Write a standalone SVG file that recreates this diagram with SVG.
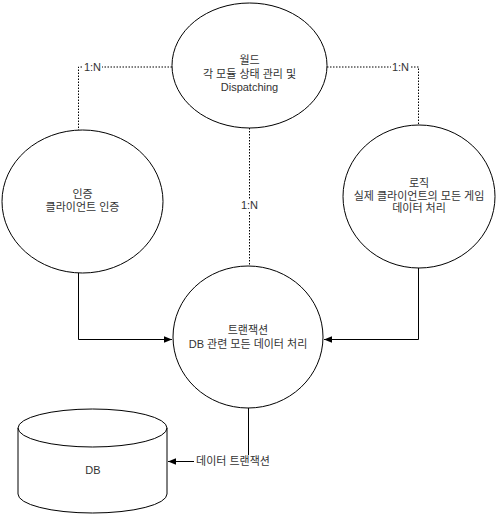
<svg xmlns="http://www.w3.org/2000/svg" width="497" height="517" viewBox="0 0 497 517">
<defs>
<style>
.n{fill:#fff;stroke:#000;stroke-width:1}
.t{font-family:"Liberation Sans","Noto Sans CJK KR",sans-serif;font-size:11px;fill:#333;text-anchor:middle}
.d{fill:none;stroke:#000;stroke-width:1;stroke-dasharray:1.5 1.5}
.s{fill:none;stroke:#000;stroke-width:1}
.lb{fill:#fff}
</style>
<marker id="ah" viewBox="0 0 10 10" refX="10" refY="5" markerWidth="8" markerHeight="8" markerUnits="userSpaceOnUse" orient="auto">
<path d="M0,1 L10,5 L0,9 Z" fill="#000"/>
</marker>
</defs>
<rect width="497" height="517" fill="#fff"/>
<g id="connectors">
<path class="d" d="M172,67 H78.5 V130"/>
<path class="d" d="M327,67 H418.5 V125"/>
<path class="d" d="M249.5,128 V266"/>
<path class="s" d="M78.5,273 V339.5 H172" marker-end="url(#ah)"/>
<path class="s" d="M418.5,268 V339.5 H324" marker-end="url(#ah)"/>
<path class="s" d="M248.5,408 V461.5 H168" marker-end="url(#ah)"/>
<rect class="lb" x="83" y="61" width="19" height="12"/>
<text class="t" x="92.5" y="71">1:N</text>
<rect class="lb" x="391" y="61" width="19" height="12"/>
<text class="t" x="400.5" y="71">1:N</text>
<rect class="lb" x="240" y="199" width="19" height="12"/>
<text class="t" x="249.5" y="209">1:N</text>
<rect class="lb" x="194" y="455" width="79" height="13"/>
<text class="t" x="233" y="465">데이터 트랜잭션</text>
</g>
<g id="world">
<ellipse class="n" cx="249.5" cy="65.5" rx="77.5" ry="62.5"/>
<text class="t" x="249.5" y="64">월드</text>
<text class="t" x="249.5" y="78">각 모듈 상태 관리 및</text>
<text class="t" x="249.5" y="91">Dispatching</text>
</g>
<g id="auth">
<ellipse class="n" cx="82.5" cy="201.5" rx="80.5" ry="71.5"/>
<text class="t" x="82.5" y="198">인증</text>
<text class="t" x="82.5" y="211">클라이언트 인증</text>
</g>
<g id="logic">
<ellipse class="n" cx="419" cy="196.5" rx="76" ry="71.5"/>
<text class="t" x="419" y="187">로직</text>
<text class="t" x="419" y="200">실제 클라이언트의 모든 게임</text>
<text class="t" x="419" y="212">데이터 처리</text>
</g>
<g id="transaction">
<ellipse class="n" cx="248" cy="337" rx="75" ry="71"/>
<text class="t" x="248" y="334">트랜잭션</text>
<text class="t" x="248" y="348">DB 관련 모든 데이터 처리</text>
</g>
<g id="db">
<path class="n" d="M18,428 V494 A74.5,19 0 0 0 167,494 V428 A74.5,19 0 0 0 18,428 Z"/>
<path class="s" d="M18,428 A74.5,19 0 0 0 167,428"/>
<text class="t" x="93" y="474">DB</text>
</g>
</svg>
